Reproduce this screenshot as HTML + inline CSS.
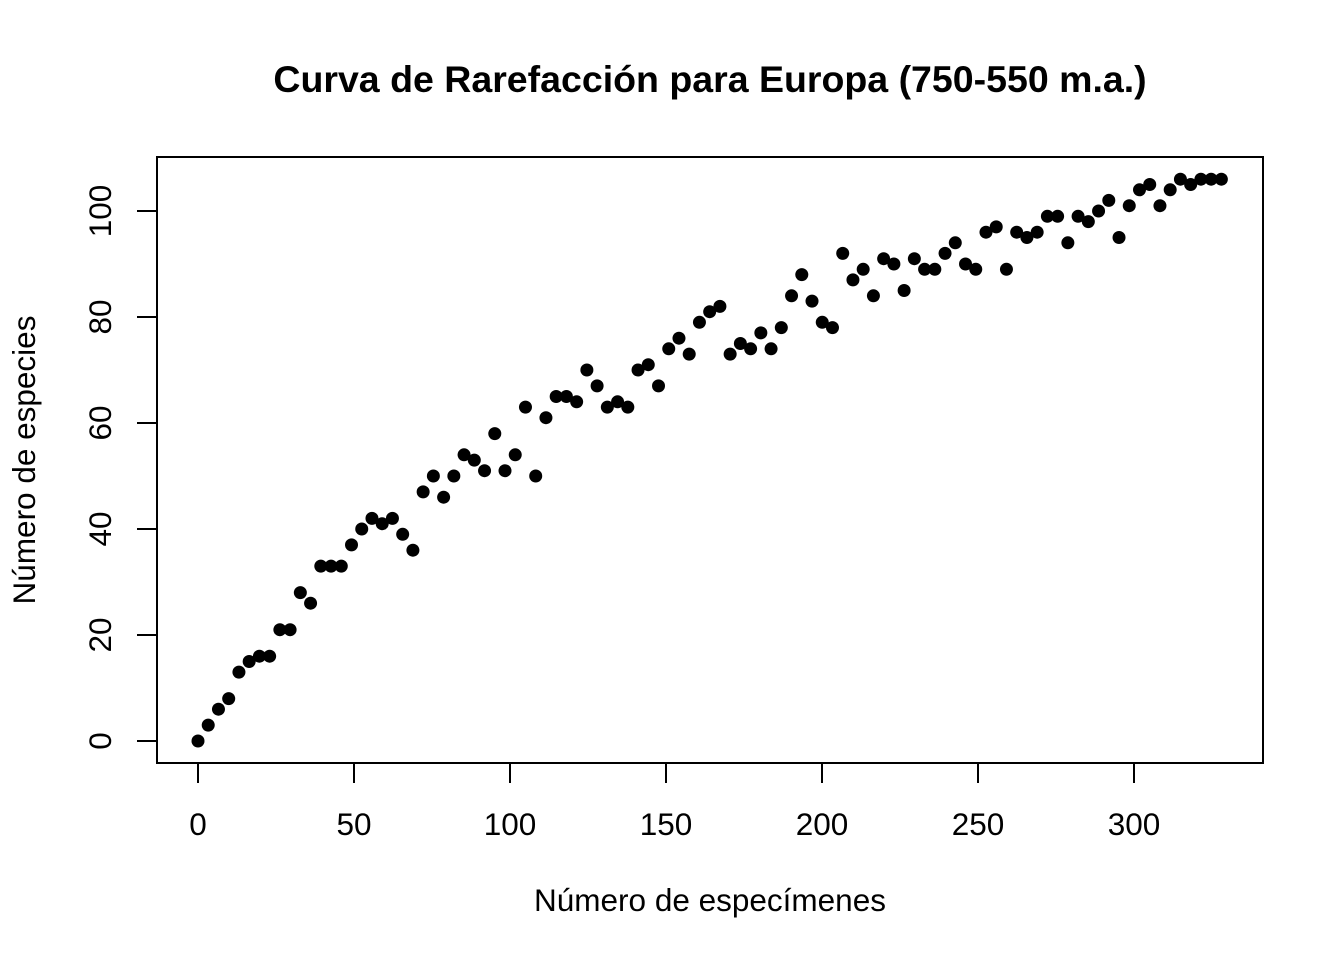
<!DOCTYPE html>
<html><head><meta charset="utf-8"><style>
html,body{margin:0;padding:0;background:#fff;}
svg{display:block;font-family:"Liberation Sans",Arial,sans-serif;}
</style></head><body>
<svg id="chart" width="1344" height="960">
<text x="710" y="92" text-anchor="middle" font-size="37.5" font-weight="bold">Curva de Rarefacción para Europa (750-550 m.a.)</text>
<rect x="157" y="157" width="1106" height="606" fill="none" stroke="#000" stroke-width="2"/>
<text x="710" y="911" text-anchor="middle" font-size="31.5">Número de especímenes</text>
<text transform="translate(35,460) rotate(-90)" text-anchor="middle" font-size="31.5">Número de especies</text>
<g id="axes"></g>
<g id="points"></g>
</svg>
<script>
const xTicks = [0,50,100,150,200,250,300];
const yTicks = [0,20,40,60,80,100];
const species = [0,3,6,8,13,15,16,16,21,21,28,26,33,33,33,37,40,42,41,42,39,36,47,50,46,50,54,53,51,58,51,54,63,50,61,65,65,64,70,67,63,64,63,70,71,67,74,76,73,79,81,82,73,75,74,77,74,78,84,88,83,79,78,92,87,89,84,91,90,85,91,89,89,92,94,90,89,96,97,89,96,95,96,99,99,94,99,98,100,102,95,101,104,105,101,104,106,105,106,106,106];
const specimens = species.map((_, i) => Math.round(i * 3.28 * 100) / 100);

const NS = "http://www.w3.org/2000/svg";
const xs = v => 198 + v * 3.12;
const ys = v => 741 - v * 5.3;
const axes = document.getElementById('axes');
const pts = document.getElementById('points');
function mk(tag, attrs, parent) {
  const e = document.createElementNS(NS, tag);
  for (const k in attrs) e.setAttribute(k, attrs[k]);
  parent.appendChild(e);
  return e;
}
const xLine = mk('line', {x1: xs(xTicks[0]), x2: xs(xTicks[xTicks.length-1]), y1: 763, y2: 763, stroke: '#000', 'stroke-width': 2}, axes);


xTicks.forEach(t => {
  const l = mk('line', {x1: xs(t), x2: xs(t), y1: 763, y2: 783, stroke: '#000', 'stroke-width': 2}, axes);
  
  
  const tx = mk('text', {x: xs(t), y: 835, 'text-anchor': 'middle', 'font-size': 31.5}, axes);
  tx.textContent = t;
  
  
});
const yLine = mk('line', {x1: 157, x2: 157, y1: ys(yTicks[0]), y2: ys(yTicks[yTicks.length-1]), stroke: '#000', 'stroke-width': 2}, axes);


yTicks.forEach(t => {
  const l = mk('line', {x1: 137, x2: 157, y1: ys(t), y2: ys(t), stroke: '#000', 'stroke-width': 2}, axes);
  
  
  const tx = mk('text', {transform: 'translate(111,' + ys(t) + ') rotate(-90)', 'text-anchor': 'middle', 'font-size': 31.5}, axes);
  tx.textContent = t;
  
  
});
species.forEach((v, i) => {
  const c = mk('circle', {cx: xs(specimens[i]), cy: ys(v), r: 6.5, fill: '#000'}, pts);
  
  
});
</script>
</body></html>
